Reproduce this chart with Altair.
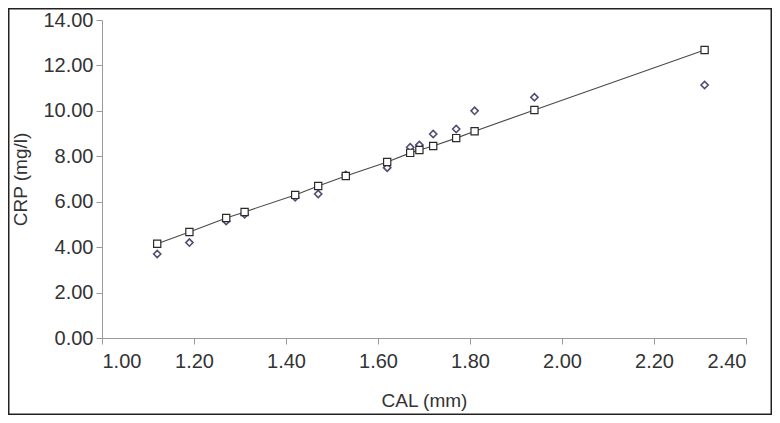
import altair as alt
import pandas as pd

# CAL (mm)
cal = [1.12, 1.19, 1.27, 1.31, 1.42, 1.47, 1.53, 1.62, 1.67, 1.69, 1.72, 1.77, 1.81, 1.94, 2.31]
# Observed CRP (mg/l)
crp_observed = [3.70, 4.20, 5.15, 5.45, 6.20, 6.34, 7.18, 7.50, 8.40, 8.50, 8.98, 9.20, 10.00, 10.60, 11.14]
# Predicted CRP (mg/l) on the regression line
crp_predicted = [4.15, 4.67, 5.28, 5.55, 6.30, 6.69, 7.13, 7.75, 8.15, 8.28, 8.45, 8.80, 9.10, 10.04, 12.68]

df = pd.DataFrame({"cal": cal, "obs": crp_observed, "pred": crp_predicted})

W, H = 644, 318
PAD = {"left": 94, "top": 12, "right": 26, "bottom": 77}

x = alt.X("cal:Q", title="CAL (mm)",
          scale=alt.Scale(domain=[1.0, 2.4], nice=False, zero=False),
          axis=alt.Axis(values=[1.0, 1.2, 1.4, 1.6, 1.8, 2.0, 2.2, 2.4], format=".2f",
                        grid=False, tickSize=6, labelPadding=7, titlePadding=20))
yaxis = alt.Axis(values=[0, 2, 4, 6, 8, 10, 12, 14], format=".2f", grid=False,
                 tickSize=6, labelPadding=3, titleX=-82, titleBaseline="middle")

base = alt.Chart(df)

line = base.mark_line(color="#4a4a4a", strokeWidth=1.1).encode(
    x=x,
    y=alt.Y("pred:Q", title="CRP (mg/l)", scale=alt.Scale(domain=[0, 14], nice=False), axis=yaxis),
)
squares = base.mark_point(shape="square", filled=True, fill="white", stroke="#2a2a2a",
                          strokeWidth=1.2, size=52, opacity=1).encode(
    x=x, y=alt.Y("pred:Q"))
diamonds = base.mark_point(shape="diamond", filled=True, fill="white", stroke="#4e4e70",
                           strokeWidth=1.6, size=52, opacity=1).encode(
    x=x, y=alt.Y("obs:Q"))

frame = alt.Chart(pd.DataFrame({"k": [0]})).mark_rect(
    fill=None, stroke="#222222", strokeWidth=1.5, clip=False
).encode(
    x=alt.value(-PAD["left"] + 0.75), x2=alt.value(W + PAD["right"] - 0.75),
    y=alt.value(-PAD["top"] + 0.75), y2=alt.value(H + PAD["bottom"] - 0.75),
)

chart = alt.layer(line, diamonds, squares, frame).properties(
    width=W, height=H,
    autosize=alt.AutoSizeParams(type="none"),
    padding=PAD,
).configure_view(stroke=None).configure_axis(
    domainColor="#9a9a9a", tickColor="#9a9a9a",
    labelFont="Liberation Sans", titleFont="Liberation Sans",
    labelFontSize=20, titleFontSize=19, labelColor="#333333", titleColor="#333333",
    titleFontWeight="normal",
)

chart.save("out.html", embed_options={"renderer": "svg", "actions": False})
